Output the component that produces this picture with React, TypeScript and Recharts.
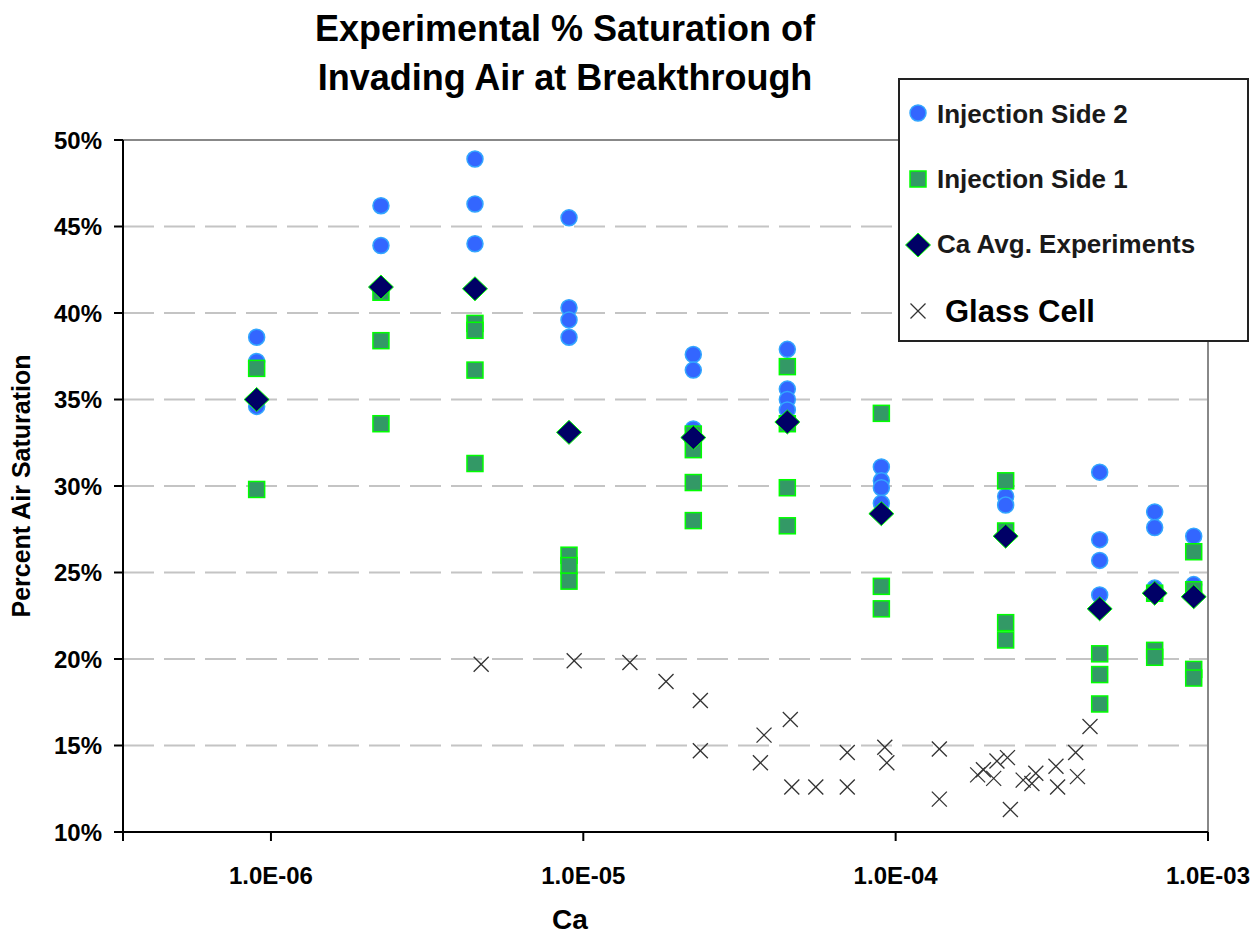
import React from 'react';
import {
  ScatterChart,
  Scatter,
  XAxis,
  YAxis,
  CartesianGrid,
  ReferenceLine,
  Legend,
  Label
} from 'recharts';

const FONT = "'Liberation Sans', Arial, sans-serif";

// Ca values (x) and % air saturation (y)
const side2Ca = [
  9e-7, 9e-7, 9e-7, 2.25e-6, 2.25e-6, 4.5e-6, 4.5e-6, 4.5e-6,
  9e-6, 9e-6, 9e-6, 9e-6, 2.25e-5, 2.25e-5, 2.25e-5,
  4.5e-5, 4.5e-5, 4.5e-5, 4.5e-5, 9e-5, 9e-5, 9e-5, 9e-5,
  2.25e-4, 2.25e-4, 4.5e-4, 4.5e-4, 4.5e-4, 4.5e-4,
  6.75e-4, 6.75e-4, 6.75e-4, 9e-4, 9e-4
];
const side2Sat = [
  38.6, 37.2, 34.6, 46.2, 43.9, 48.9, 46.3, 44.0,
  45.5, 40.3, 39.6, 38.6, 37.6, 36.7, 33.3,
  37.9, 35.6, 35.0, 34.4, 31.1, 30.3, 29.9, 29.0,
  29.4, 28.9, 30.8, 26.9, 25.7, 23.7,
  28.5, 27.6, 24.1, 27.1, 24.3
];

const side1Ca = [
  9e-7, 9e-7, 2.25e-6, 2.25e-6, 2.25e-6, 4.5e-6, 4.5e-6, 4.5e-6, 4.5e-6,
  9e-6, 9e-6, 9e-6, 2.25e-5, 2.25e-5, 2.25e-5, 2.25e-5,
  4.5e-5, 4.5e-5, 4.5e-5, 4.5e-5, 9e-5, 9e-5, 9e-5,
  2.25e-4, 2.25e-4, 2.25e-4, 2.25e-4, 4.5e-4, 4.5e-4, 4.5e-4,
  6.75e-4, 6.75e-4, 6.75e-4, 9e-4, 9e-4, 9e-4, 9e-4
];
const side1Sat = [
  36.8, 29.8, 41.2, 38.4, 33.6, 39.4, 39.0, 36.7, 31.3,
  26.0, 25.4, 24.5, 33.0, 32.1, 30.2, 28.0,
  36.9, 33.6, 29.9, 27.7, 34.2, 24.2, 22.9,
  30.3, 27.4, 22.1, 21.1, 20.3, 19.1, 17.4,
  23.8, 20.5, 20.1, 26.2, 24.0, 19.4, 18.9
];

const avgCa = [9e-7, 2.25e-6, 4.5e-6, 9e-6, 2.25e-5, 4.5e-5, 9e-5, 2.25e-4, 4.5e-4, 6.75e-4, 9e-4];
const avgSat = [35.0, 41.5, 41.4, 33.1, 32.8, 33.7, 28.4, 27.1, 22.9, 23.8, 23.6];

const glassCa = [
  4.71e-6, 9.35e-6, 1.41e-5, 1.84e-5, 2.37e-5, 2.37e-5, 3.79e-5, 3.69e-5,
  4.6e-5, 4.65e-5, 5.55e-5, 7.0e-5, 7.0e-5, 9.23e-5, 9.37e-5,
  1.38e-4, 1.38e-4, 1.83e-4, 1.91e-4, 2.06e-4, 2.11e-4, 2.28e-4, 2.33e-4,
  2.56e-4, 2.73e-4, 2.81e-4, 3.26e-4, 3.3e-4, 3.77e-4, 3.82e-4, 4.19e-4
];
const glassSat = [
  19.7, 19.9, 19.8, 18.7, 17.6, 14.7, 15.6, 14.0,
  16.5, 12.6, 12.6, 14.6, 12.6, 14.9, 14.0,
  14.8, 11.9, 13.3, 13.6, 13.1, 14.1, 14.3, 11.3,
  13.0, 12.8, 13.4, 13.8, 12.6, 14.6, 13.2, 16.1
];

const xMin = 3.36e-7;
const xTicks = [xMin, 1e-6, 1e-5, 1e-4, 1e-3];
const xTickLabels = ['', '1.0E-06', '1.0E-05', '1.0E-04', '1.0E-03'];
const yTicks = [10, 15, 20, 25, 30, 35, 40, 45, 50];

const zip = (xs: number[], ys: number[]) => xs.map((x, i) => ({ x, y: ys[i] }));

const side2 = zip(side2Ca, side2Sat);
const side1 = zip(side1Ca, side1Sat);
const avg = zip(avgCa, avgSat);
const glass = zip(glassCa, glassSat);

const Circle = ({ cx, cy }: any) => (
  <circle cx={cx} cy={cy} r={8} fill="#3366ff" stroke="#33a6ff" strokeWidth={1.5} />
);
const Square = ({ cx, cy }: any) => (
  <rect x={cx - 8} y={cy - 8} width={16} height={16} fill="#339966" stroke="#00ff00" strokeWidth={1.5} />
);
const Diamond = ({ cx, cy }: any) => (
  <polygon
    points={`${cx},${cy - 12} ${cx + 12.5},${cy} ${cx},${cy + 12} ${cx - 12.5},${cy}`}
    fill="#000066"
    stroke="#00ff00"
    strokeWidth={1}
  />
);
const Cross = ({ cx, cy }: any) => (
  <g stroke="#333" strokeWidth={1.3}>
    <line x1={cx - 7.5} y1={cy - 7.5} x2={cx + 7.5} y2={cy + 7.5} />
    <line x1={cx - 7.5} y1={cy + 7.5} x2={cx + 7.5} y2={cy - 7.5} />
  </g>
);

const LegendBox = () => (
  <div
    style={{
      width: 351,
      height: 264,
      boxSizing: 'border-box',
      border: '2px solid #222',
      background: '#fff'
    }}
  >
    <svg width={347} height={260} style={{ display: 'block' }}>
      <g transform="translate(-2,-2)">
        <Circle cx={20} cy={35} />
        <text x={39} y={45} fontFamily={FONT} fontSize={26} fontWeight="bold" fill="#1a1a1a">
          Injection Side 2
        </text>
        <Square cx={20} cy={101} />
        <text x={39} y={110} fontFamily={FONT} fontSize={26} fontWeight="bold" fill="#1a1a1a">
          Injection Side 1
        </text>
        <Diamond cx={20} cy={167} />
        <text x={39} y={175} fontFamily={FONT} fontSize={26} fontWeight="bold" fill="#1a1a1a">
          Ca Avg. Experiments
        </text>
        <Cross cx={20} cy={233} />
        <text x={47} y={244} fontFamily={FONT} fontSize={31} fontWeight="bold" fill="#000">
          Glass Cell
        </text>
      </g>
    </svg>
  </div>
);

export default function App() {
  return (
    <div style={{ position: 'absolute', left: 0, top: 0, width: 1250, height: 941, background: '#fff' }}>
      <div
        style={{
          position: 'absolute',
          left: 0,
          width: 1130,
          top: 4,
          textAlign: 'center',
          fontFamily: FONT,
          fontWeight: 'bold',
          fontSize: 36,
          lineHeight: '49px',
          color: '#000'
        }}
      >
        Experimental % Saturation of
        <br />
        Invading Air at Breakthrough
      </div>
      <ScatterChart width={1250} height={941} margin={{ top: 140, right: 42, bottom: 0, left: 0 }}>
        <CartesianGrid
          horizontal
          vertical={false}
          stroke="#c4c4c4"
          strokeWidth={2}
          strokeDasharray="31 10"
        />
        <XAxis
          type="number"
          dataKey="x"
          scale="log"
          domain={[xMin, 1e-3]}
          ticks={xTicks}
          allowDataOverflow
          height={109}
          tickSize={9}
          tickMargin={26}
          tickFormatter={(v: number) => xTickLabels[xTicks.indexOf(v)] ?? ''}
          axisLine={{ stroke: '#000', strokeWidth: 2 }}
          tickLine={{ stroke: '#000', strokeWidth: 2 }}
          tick={{ fontFamily: FONT, fontSize: 24, fontWeight: 'bold', fill: '#000' }}
          interval={0}
        >
          <Label
            content={() => (
              <text x={570} y={929} textAnchor="middle" fontFamily={FONT} fontSize={28} fontWeight="bold" fill="#000">
                Ca
              </text>
            )}
          />
        </XAxis>
        <YAxis
          type="number"
          dataKey="y"
          domain={[10, 50]}
          ticks={yTicks}
          width={123}
          tickSize={9}
          tickMargin={12}
          tickFormatter={(v: number) => `${v}%`}
          axisLine={{ stroke: '#000', strokeWidth: 2 }}
          tickLine={{ stroke: '#000', strokeWidth: 2 }}
          tick={{ fontFamily: FONT, fontSize: 24, fontWeight: 'bold', fill: '#000' }}
          interval={0}
        >
          <Label
            content={() => (
              <text
                x={30}
                y={486}
                transform="rotate(-90 30 486)"
                textAnchor="middle"
                fontFamily={FONT}
                fontSize={25}
                fontWeight="bold"
                fill="#000"
              >
                Percent Air Saturation
              </text>
            )}
          />
        </YAxis>
        <ReferenceLine y={50} stroke="#888" strokeWidth={2} />
        <ReferenceLine x={1e-3} stroke="#888" strokeWidth={2} />
        <Scatter name="Injection Side 2" data={side2} shape={Circle} isAnimationActive={false} />
        <Scatter name="Injection Side 1" data={side1} shape={Square} isAnimationActive={false} />
        <Scatter name="Ca Avg. Experiments" data={avg} shape={Diamond} isAnimationActive={false} />
        <Scatter name="Glass Cell" data={glass} shape={Cross} isAnimationActive={false} />
        <Legend
          layout="vertical"
          align="center"
          verticalAlign="middle"
          wrapperStyle={{ left: 898, top: 78, width: 351, height: 264 }}
          content={() => <LegendBox />}
        />
      </ScatterChart>
    </div>
  );
}
